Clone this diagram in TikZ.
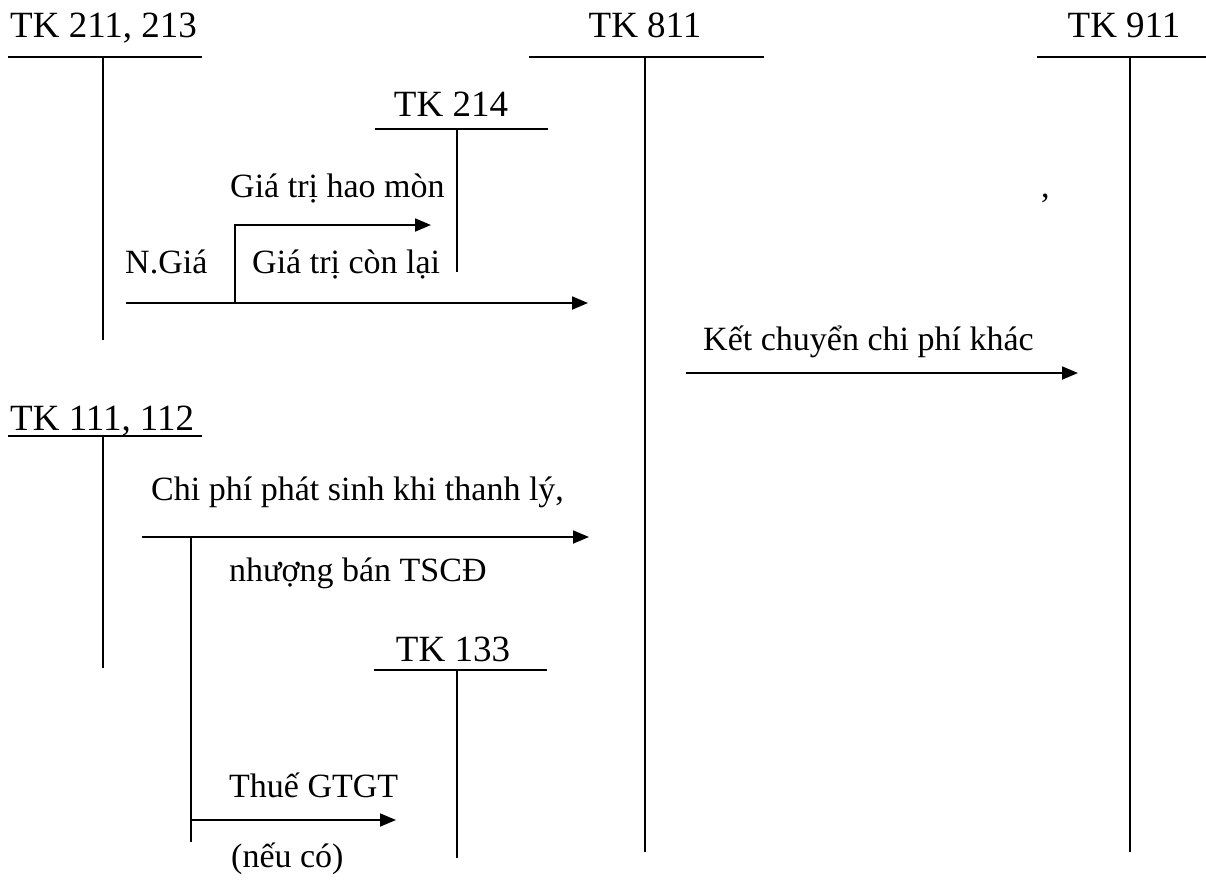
\documentclass[tikz,border=0pt]{standalone}
\usepackage{fontspec}
\setmainfont{Liberation Serif}
\usetikzlibrary{arrows.meta}
\begin{document}
\begin{tikzpicture}[x=1pt,y=-1pt,
  acct/.style={font=\fontsize{37}{40}\selectfont, inner sep=0pt, anchor=base},
  lbl/.style={font=\fontsize{34}{38}\selectfont, inner sep=0pt, anchor=base west},
  tline/.style={line width=1.8pt},
  flow/.style={line width=1.8pt, -{Triangle[length=16pt,width=13pt]}}]
\useasboundingbox (0,0) rectangle (1206,880);

% --- T-account TK 211, 213
\node[acct, anchor=base west] (t211) at (10,38) {TK 211, 213};
\coordinate (t211l) at (8,57);   \coordinate (t211r) at (202,57);
\coordinate (t211t) at (103,57); \coordinate (t211b) at (103,340);
\draw[tline] (t211l) -- (t211r);
\draw[tline] (t211t) -- (t211b);

% --- T-account TK 811
\node[acct] (t811) at (645,38) {TK 811};
\coordinate (t811l) at (529,57);  \coordinate (t811r) at (764,57);
\coordinate (t811t) at (645,57);  \coordinate (t811b) at (645,852);
\draw[tline] (t811l) -- (t811r);
\draw[tline] (t811t) -- (t811b);

% --- T-account TK 911
\node[acct] (t911) at (1124,38) {TK 911};
\coordinate (t911l) at (1037,57); \coordinate (t911r) at (1206,57);
\coordinate (t911t) at (1130,57); \coordinate (t911b) at (1130,852);
\draw[tline] (t911l) -- (t911r);
\draw[tline] (t911t) -- (t911b);

% --- T-account TK 214
\node[acct] (t214) at (451,117) {TK 214};
\coordinate (t214l) at (375,129); \coordinate (t214r) at (548,129);
\coordinate (t214t) at (457,129); \coordinate (t214b) at (457,272);
\draw[tline] (t214l) -- (t214r);
\draw[tline] (t214t) -- (t214b);

% --- T-account TK 111, 112
\node[acct, anchor=base west] (t111) at (10,430) {TK 111, 112};
\coordinate (t111l) at (8,436);   \coordinate (t111r) at (202,436);
\coordinate (t111t) at (103,436); \coordinate (t111b) at (103,668);
\draw[tline] (t111l) -- (t111r);
\draw[tline] (t111t) -- (t111b);

% --- T-account TK 133
\node[acct] (t133) at (453,661) {TK 133};
\coordinate (t133l) at (374,670); \coordinate (t133r) at (547,670);
\coordinate (t133t) at (457,670); \coordinate (t133b) at (457,858);
\draw[tline] (t133l) -- (t133r);
\draw[tline] (t133t) -- (t133b);

% --- disposal of fixed asset: original cost split into depreciation and residual value
\coordinate (ngS) at (126,303); \coordinate (ngE) at (588,303);
\coordinate (hmS) at (235,303); \coordinate (hmK) at (235,225); \coordinate (hmE) at (431,225);
\draw[flow] (ngS) -- (ngE);
\draw[flow] (hmS) -- (hmK) -- (hmE);
\node[lbl] (ng)  at (125,273) {N.Giá};
\node[lbl] (gcl) at (252,273) {Giá trị còn lại};
\node[lbl] (ghm) at (230,197) {Giá trị hao mòn};
\node[lbl] (cm)  at (1041,197) {,};

% --- closing other expenses to TK 911
\coordinate (kcS) at (686,373); \coordinate (kcE) at (1078,373);
\draw[flow] (kcS) -- (kcE);
\node[lbl] (kc) at (703,350) {Kết chuyển chi phí khác};

% --- disposal costs paid in cash
\coordinate (cpS) at (142,537); \coordinate (cpE) at (589,537);
\draw[flow] (cpS) -- (cpE);
\node[lbl] (cp1) at (151,500) {Chi phí phát sinh khi thanh lý,};
\node[lbl] (cp2) at (229,581) {nhượng bán TSCĐ};

% --- input VAT
\coordinate (vtT) at (191,537); \coordinate (vtB) at (191,842);
\coordinate (vtS) at (191,820); \coordinate (vtE) at (396,820);
\draw[tline] (vtT) -- (vtB);
\draw[flow] (vtS) -- (vtE);
\node[lbl] (vt1) at (229,797) {Thuế GTGT};
\node[lbl] (vt2) at (231,867) {(nếu có)};
\end{tikzpicture}
\end{document}
